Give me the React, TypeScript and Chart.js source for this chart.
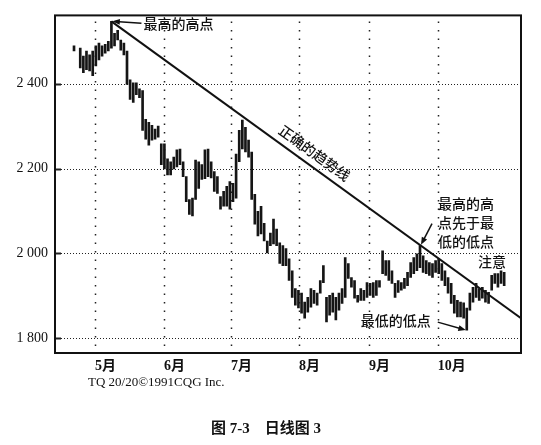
import React, { useEffect, useRef } from "react";
import { Chart, registerables } from "chart.js";

Chart.register(...registerables);

// Month start positions (trading-day index) and their labels
const MONTH_LABELS = ["5月", "6月", "7月", "8月", "9月", "10月"];
const MONTH_POS = [6.7, 28.9, 50.4, 72.2, 94.6, 116.7];
const Y_TICKS = [1800, 2000, 2200, 2400];
const X_MIN = -6.1;
const X_MAX = 143.4;
const Y_MIN = 1765;
const Y_MAX = 2561;

// Daily highs / lows, one per trading day (null = no bar)
const HIGHS: (number | null)[] = [
  2489, null, 2484, 2465, 2477, 2468, 2477, 2489, 2496, 2489,
  2493, 2500, 2547, 2519, 2526, 2503, 2496, 2477, 2409, 2402,
  2402, 2388, 2384, 2316, 2309, 2302, 2293, 2300, 2258, 2258,
  2223, 2216, 2227, 2244, 2246, 2216, 2181, 2127, 2130, 2220,
  2216, 2209, 2244, 2246, 2216, 2193, 2181, 2134, 2146, 2158,
  2169, 2165, 2234, 2290, 2314, 2297, 2267, 2239, 2139, 2099,
  2111, 2071, 2029, 2048, 2081, 2057, 2025, 2018, 2011, 1987,
  1959, 1917, 1913, 1906, 1885, 1896, 1917, 1913, 1906, 1936,
  1971, 1896, 1901, 1906, 1896, 1906, 1917, 1990, 1976, 1943,
  1936, 1901, 1917, 1913, 1931, 1929, 1931, 1936, 1936, 2006,
  1983, 1983, 1959, 1929, 1936, 1931, 1941, 1955, 1978, 1990,
  1999, 2018, 1994, 1983, 1978, 1976, 1983, 1987, 1976, 1959,
  1943, 1929, 1901, 1889, 1885, 1883, 1871, 1906, 1920, 1929,
  1917, 1920, 1913, 1908, 1948, 1952, 1952, 1959, 1955,
];
const LOWS: (number | null)[] = [
  2477, null, 2437, 2426, 2433, 2430, 2419, 2442, 2456, 2465,
  2472, 2477, 2484, 2489, 2503, 2479, 2468, 2398, 2363, 2356,
  2374, 2367, 2290, 2269, 2255, 2267, 2269, 2274, 2209, 2199,
  2185, 2185, 2199, 2204, 2209, 2181, 2122, 2092, 2088, 2127,
  2153, 2174, 2176, 2181, 2178, 2146, 2141, 2104, 2111, 2111,
  2104, 2122, 2130, 2216, 2246, 2239, 2227, 2127, 2069, 2041,
  2046, 2029, 2001, 2018, 2022, 2018, 1976, 1971, 1971, 1936,
  1896, 1878, 1871, 1859, 1847, 1861, 1873, 1882, 1878, 1906,
  1931, 1838, 1854, 1861, 1843, 1866, 1882, 1896, 1941, 1920,
  1894, 1885, 1889, 1889, 1896, 1901, 1896, 1901, 1920, 1952,
  1948, 1936, 1929, 1896, 1908, 1913, 1917, 1924, 1943, 1952,
  1959, 1966, 1955, 1952, 1948, 1943, 1955, 1952, 1936, 1924,
  1906, 1882, 1859, 1850, 1850, 1847, 1819, 1866, 1885, 1896,
  1889, 1894, 1885, 1882, 1913, 1929, 1920, 1929, 1924,
];

// Trendline endpoints (day index, price)
const TREND_X = [12, 143.4];
const TREND_Y = [2547, 1847];

// Annotated bars
const PEAK_INDEX = 12;
const LATER_HIGH_INDEX = 111;
const LOWEST_INDEX = 126;

const SERIF = '"Liberation Serif", "Times New Roman", serif';
const CJK = '"Noto Sans CJK SC", "Noto Sans", sans-serif';

const fmtTick = (v: number) =>
  `${Math.floor(v / 1000)} ${String(v % 1000).padStart(3, "0")}`;

function arrow(ctx: CanvasRenderingContext2D, x1: number, y1: number, x2: number, y2: number, head = 7) {
  const ang = Math.atan2(y2 - y1, x2 - x1);
  ctx.beginPath();
  ctx.moveTo(x1, y1);
  ctx.lineTo(x2 - Math.cos(ang) * 3, y2 - Math.sin(ang) * 3);
  ctx.stroke();
  ctx.beginPath();
  ctx.moveTo(x2, y2);
  ctx.lineTo(x2 - head * Math.cos(ang - 0.38), y2 - head * Math.sin(ang - 0.38));
  ctx.lineTo(x2 - head * Math.cos(ang + 0.38), y2 - head * Math.sin(ang + 0.38));
  ctx.closePath();
  ctx.fill();
}

const gridPlugin = {
  id: "dottedGrid",
  beforeDatasetsDraw(chart: any) {
    const { ctx, chartArea: a, scales } = chart;
    const x = scales.x;
    const y = scales.y;
    ctx.save();
    ctx.strokeStyle = "#222";
    ctx.lineWidth = 1;
    ctx.setLineDash([1, 2]);
    y.ticks.forEach((t: any) => {
      const py = Math.round(y.getPixelForValue(t.value)) + 0.5;
      ctx.beginPath();
      ctx.moveTo(a.left, py);
      ctx.lineTo(a.right, py);
      ctx.stroke();
    });
    ctx.lineWidth = 1.5;
    ctx.setLineDash([1.5, 7]);
    x.ticks.forEach((t: any) => {
      const px = Math.round(x.getPixelForValue(t.value)) + 0.5;
      ctx.beginPath();
      ctx.moveTo(px, a.top + 6);
      ctx.lineTo(px, a.bottom);
      ctx.stroke();
    });
    ctx.setLineDash([]);
    ctx.lineWidth = 2;
    y.ticks.forEach((t: any) => {
      const py = Math.round(y.getPixelForValue(t.value)) + 0.5;
      ctx.beginPath();
      ctx.moveTo(a.left, py);
      ctx.lineTo(a.left + 6, py);
      ctx.stroke();
    });
    ctx.restore();
  },
};

const framePlugin = {
  id: "frame",
  afterDatasetsDraw(chart: any) {
    const { ctx, chartArea: a } = chart;
    ctx.save();
    ctx.strokeStyle = "#111";
    ctx.lineWidth = 2;
    ctx.strokeRect(a.left, a.top, a.right - a.left, a.bottom - a.top);
    ctx.restore();
  },
};

const notePlugin = {
  id: "notes",
  afterDatasetsDraw(chart: any) {
    const { ctx, scales } = chart;
    const x = scales.x;
    const y = scales.y;
    ctx.save();
    ctx.fillStyle = "#111";
    ctx.strokeStyle = "#111";
    ctx.lineWidth = 1.5;
    ctx.font = `500 14px ${CJK}`;
    ctx.textBaseline = "middle";
    ctx.textAlign = "left";

    // highest high
    const pX = x.getPixelForValue(PEAK_INDEX);
    const pY = y.getPixelForValue(HIGHS[PEAK_INDEX] as number);
    ctx.fillText("最高的高点", pX + 32, pY + 2);
    arrow(ctx, pX + 30, pY + 2, pX + 1, pY, 8);

    // later high
    const hX = x.getPixelForValue(LATER_HIGH_INDEX);
    const hY = y.getPixelForValue(HIGHS[LATER_HIGH_INDEX] as number);
    ctx.fillText("最高的高", hX + 18, hY - 42);
    ctx.fillText("点先于最", hX + 18, hY - 23);
    ctx.fillText("低的低点", hX + 18, hY - 4);
    arrow(ctx, hX + 12, hY - 22, hX + 1, hY - 1, 8);

    // lowest low
    const lX = x.getPixelForValue(LOWEST_INDEX);
    const lY = y.getPixelForValue(LOWS[LOWEST_INDEX] as number);
    ctx.fillText("最低的低点", lX - 106, lY - 9);
    arrow(ctx, lX - 29, lY - 8, lX - 1, lY, 8);

    // attention
    ctx.textAlign = "center";
    ctx.fillText("注意", 492, 262);

    // trendline label
    const x1 = x.getPixelForValue(TREND_X[0]);
    const y1 = y.getPixelForValue(TREND_Y[0]);
    const x2 = x.getPixelForValue(TREND_X[1]);
    const y2 = y.getPixelForValue(TREND_Y[1]);
    const ang = Math.atan2(y2 - y1, x2 - x1);
    ctx.translate(314.5, 153);
    ctx.rotate(ang);
    ctx.fillText("正确的趋势线", 0, 0);
    ctx.restore();
  },
};

export default function App() {
  const ref = useRef<HTMLCanvasElement>(null);

  useEffect(() => {
    const canvas = ref.current;
    if (!canvas) return;
    const bars = HIGHS.map((h, i) =>
      h == null || LOWS[i] == null ? null : { x: i, y: [LOWS[i] as number, h] }
    ).filter((d) => d !== null);
    const trend = TREND_X.map((xv, i) => ({ x: xv, y: TREND_Y[i] }));

    const chart = new Chart(canvas, {
      type: "bar",
      data: {
        datasets: [
          {
            type: "bar",
            data: bars as any,
            backgroundColor: "#151515",
            borderWidth: 0,
            barThickness: 2,
            grouped: false,
          } as any,
          {
            type: "line",
            data: trend as any,
            borderColor: "#111",
            borderWidth: 2,
            pointRadius: 0,
            tension: 0,
          } as any,
        ],
      },
      options: {
        animation: false,
        responsive: false,
        devicePixelRatio: 1,
        layout: { padding: { left: 0, top: 12, right: 20, bottom: 0 } },
        plugins: { legend: { display: false }, tooltip: { enabled: false } },
        scales: {
          x: {
            type: "linear",
            min: X_MIN,
            max: X_MAX,
            offset: false,
            bounds: "ticks",
            grid: { display: false, drawTicks: false, offset: false },
            border: { display: false },
            afterBuildTicks: (s: any) => {
              s.ticks = MONTH_POS.map((v) => ({ value: v }));
            },
            afterFit: (s: any) => {
              s.height = 92;
            },
            ticks: {
              autoSkip: false,
              maxRotation: 0,
              align: "start",
              padding: 5,
              color: "#111",
              font: { family: `"Liberation Serif", ${CJK}`, size: 14, weight: "bold" },
              callback: (v: any) => {
                const k = MONTH_POS.indexOf(Number(v));
                return k >= 0 ? MONTH_LABELS[k] : "";
              },
            },
          },
          y: {
            type: "linear",
            min: Y_MIN,
            max: Y_MAX,
            grid: { display: false, drawTicks: false },
            border: { display: false },
            afterBuildTicks: (s: any) => {
              s.ticks = Y_TICKS.map((v) => ({ value: v }));
            },
            afterFit: (s: any) => {
              s.width = 55;
            },
            ticks: {
              padding: 7,
              color: "#111",
              font: { family: SERIF, size: 14 },
              callback: (v: any) => fmtTick(Number(v)),
            },
          },
        },
      } as any,
      plugins: [gridPlugin, framePlugin, notePlugin],
    });
    return () => chart.destroy();
  }, []);

  return (
    <div
      style={{
        position: "fixed",
        left: 0,
        top: 0,
        width: 541,
        height: 445,
        background: "#fff",
        overflow: "hidden",
      }}
    >
      <canvas ref={ref} width={541} height={445} style={{ position: "absolute", left: 0, top: 0 }} />
      <div
        style={{
          position: "absolute",
          left: 88,
          top: 373,
          fontFamily: SERIF,
          fontSize: 13,
          lineHeight: "17px",
          color: "#111",
          whiteSpace: "pre",
        }}
      >
        TQ 20/20©1991CQG Inc.
      </div>
      <div
        style={{
          position: "absolute",
          left: 0,
          width: 532,
          top: 418,
          textAlign: "center",
          fontFamily: `"Liberation Serif", ${CJK}`,
          fontWeight: "bold",
          fontSize: 15,
          lineHeight: "20px",
          color: "#111",
          whiteSpace: "pre",
        }}
      >
        图 7-3    日线图 3
      </div>
    </div>
  );
}
